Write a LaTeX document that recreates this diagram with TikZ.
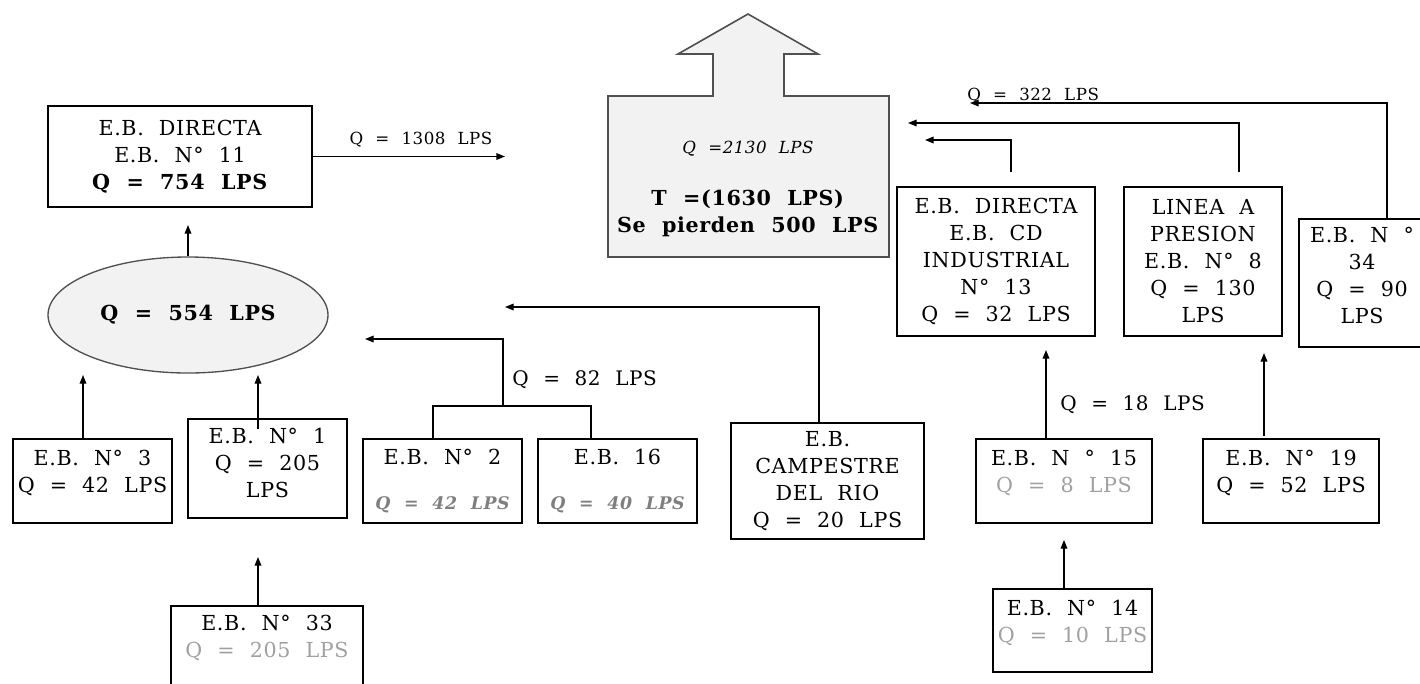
\documentclass[tikz,border=0pt]{standalone}
\usepackage{fontspec}
\setmainfont{DejaVu Serif}[WordSpace=2.1,LetterSpace=3]
\usetikzlibrary{arrows.meta,shapes.geometric}
\definecolor{fillg}{HTML}{F2F2F2}
\definecolor{edgeg}{HTML}{505050}
\definecolor{qgrey}{HTML}{7F7F7F}
\definecolor{lgrey}{HTML}{A0A0A0}
\begin{document}
\begin{tikzpicture}[x=0.75pt,y=-0.75pt,
  bx/.style 2 args={draw, line width=1.1pt, minimum width=#1*0.75pt, minimum height=#2*0.75pt,
    inner sep=0pt, align=center, font=\fontsize{15.5}{20.25}\selectfont},
  arr/.style={line width=1pt, -{Triangle[length=6.5pt,width=5pt]}},
  cn/.style={line width=1pt},
  lblsmall/.style={inner sep=0pt, font=\fontsize{12.5}{15}\selectfont},
  lblmid/.style={inner sep=0pt, font=\fontsize{15}{18}\selectfont}]
\useasboundingbox (0,0) rectangle (1420,683);

% ---------- big outlet shape ----------
\draw[line width=1.2pt, draw=edgeg, fill=fillg]
  (608,96) -- (713,96) -- (713,54) -- (678,54) -- (748,14) -- (818,54)
  -- (784,54) -- (784,96) -- (889,96) -- (889,257) -- (608,257) -- cycle;
\node[align=center, inner sep=0pt, font=\fontsize{15.5}{20.25}\selectfont] (main) at (748,189)
  {{\fontsize{12.5}{15}\selectfont\itshape Q =2130 LPS}\\[19pt]
   \textbf{T =(1630 LPS)}\\\textbf{Se pierden 500 LPS}};

% ---------- left part ----------
\node[bx={264}{101}] (d11) at (180,156.5) {E.B. DIRECTA\\E.B. N° 11\\\textbf{Q = 754 LPS}};
\node[ellipse, draw=edgeg, line width=1pt, fill=fillg, minimum width=280*0.75pt,
      minimum height=116*0.75pt, inner sep=0pt, font=\fontsize{15.5}{20.25}\selectfont\bfseries]
      (ell) at (188,315) {Q = 554 LPS};

\node[bx={159}{84}, text depth=15pt] (n3) at (92.5,481) {E.B. N° 3\\Q = 42 LPS};
\node[bx={159}{99}, text depth=9pt] (n1) at (267.5,468.5) {E.B. N° 1\\Q = 205\\LPS};
\node[bx={192}{84}, text depth=17pt] (n33) at (267,648) {E.B. N° 33\\{\color{lgrey}Q = 205 LPS}};
\node[bx={159}{84}] (n2) at (442.5,481)
  {E.B. N° 2\\[14pt]{\fontsize{13}{15}\selectfont\bfseries\itshape\color{qgrey}Q = 42 LPS}};
\node[bx={159}{84}] (n16) at (617.5,481)
  {E.B. 16\\[14pt]{\fontsize{13}{15}\selectfont\bfseries\itshape\color{qgrey}Q = 40 LPS}};
\node[bx={193}{116}] (camp) at (827.5,481) {E.B.\\CAMPESTRE\\DEL RIO\\Q = 20 LPS};

% ---------- right part ----------
\node[bx={198}{149}] (dircd) at (996,261.5) {E.B. DIRECTA\\E.B. CD\\INDUSTRIAL\\N° 13\\Q = 32 LPS};
\node[bx={158}{149}] (linea) at (1203,261.5) {LINEA A\\PRESION\\E.B. N° 8\\Q = 130\\LPS};
\node[bx={126}{128}, text depth=12pt] (n34) at (1362,283) {E.B. N °\\34\\Q = 90\\LPS};
\node[bx={176}{84}, text depth=15pt] (n15) at (1064,481) {E.B. N ° 15\\{\color{lgrey}Q = 8 LPS}};
\node[bx={176}{84}, text depth=15pt] (n19) at (1291,481) {E.B. N° 19\\Q = 52 LPS};
\node[bx={159}{83}, text depth=14.5pt] (n14) at (1072.5,630.5) {E.B. N° 14\\{\color{lgrey}Q = 10 LPS}};

% ---------- coordinates ----------
\coordinate (t1308) at (505,156.5);
\coordinate (t11) at (188,225);
\coordinate (a3) at (83,375);
\coordinate (a1) at (258,375);
\coordinate (a33) at (258,557);
\coordinate (j2) at (433,406);
\coordinate (j16) at (591,406);
\coordinate (jm) at (503,406);
\coordinate (t82) at (365,339);
\coordinate (c20) at (819,307);
\coordinate (t20) at (505,307);
\coordinate (c13) at (1011,140);
\coordinate (t13) at (925,140);
\coordinate (c8) at (1239,123);
\coordinate (t8) at (908,123);
\coordinate (c34) at (1387,103);
\coordinate (t34) at (970,103);
\coordinate (c15) at (1046,350);
\coordinate (c19) at (1264,353);
\coordinate (c14) at (1064,540);

% ---------- connectors ----------
\draw[arr] (d11.east) -- (t1308);
\node[lblsmall] (l1308) at (421,140) {Q = 1308 LPS};
\draw[arr] (ell.north) -- (t11);
\draw[arr] (n3.north -| a3) -- (a3);
\draw[arr] ([yshift=-8pt]n1.north -| a1) -- (a1);
\draw[arr] (n33.north -| a33) -- (a33);
\draw[cn] (n2.north -| j2) -- (j2) -- (j16) -- (n16.north -| j16);
\draw[arr] (jm) |- (t82);
\node[lblmid, anchor=west] (l82) at (512,380) {Q = 82 LPS};
\draw[arr] (camp.north -| c20) |- (t20);

\draw[arr] ([yshift=10.5pt]dircd.north -| c13) |- (t13);
\draw[arr] ([yshift=10.5pt]linea.north -| c8) |- (t8);
\draw[arr] (n34.north -| c34) |- (t34);
\node[lblsmall, anchor=west] (l322) at (967,96) {Q = 322 LPS};
\draw[arr] (n15.north -| c15) -- (c15);
\node[lblmid, anchor=west] (l18) at (1060,405) {Q = 18 LPS};
\draw[arr] ([yshift=2pt]n19.north -| c19) -- (c19);
\draw[arr] (n14.north -| c14) -- (c14);
\end{tikzpicture}
\end{document}
